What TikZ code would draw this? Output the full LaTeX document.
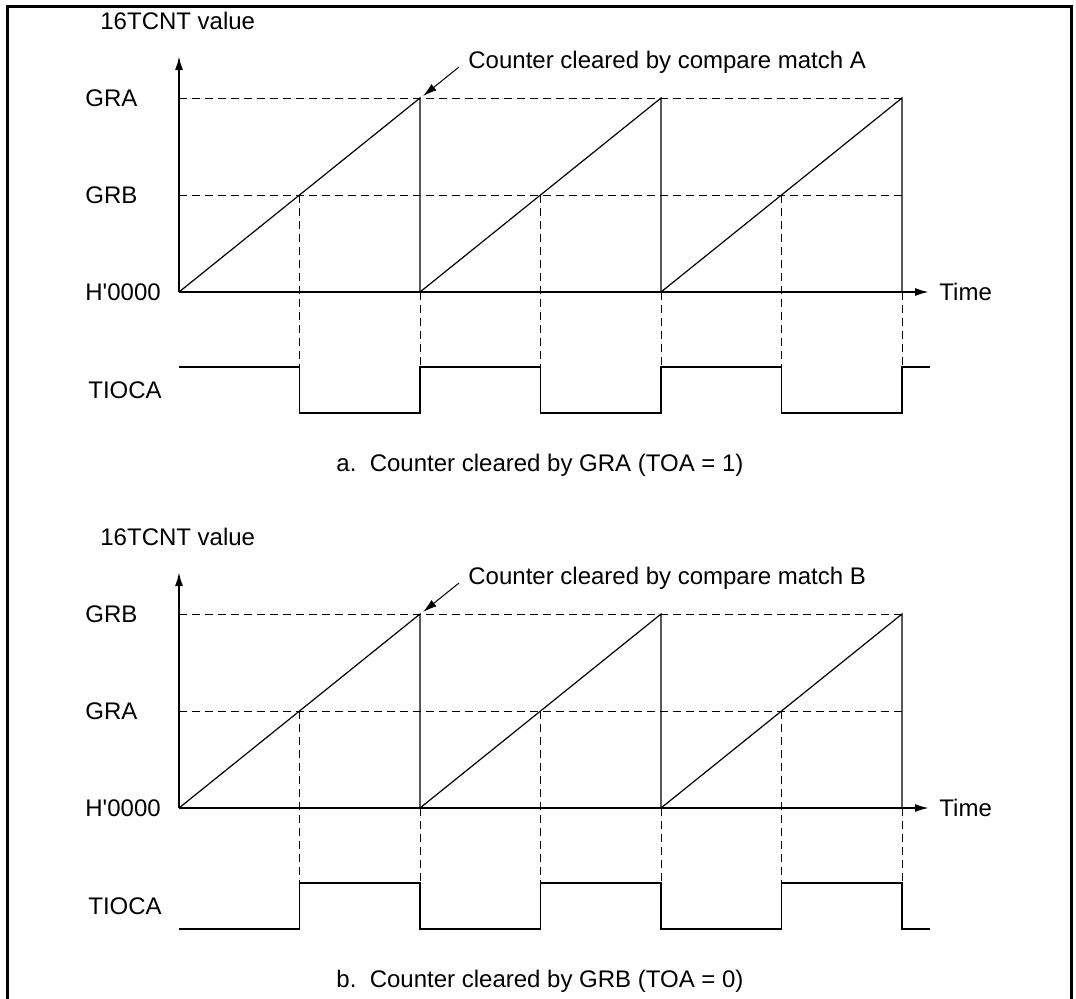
\documentclass[tikz,border=0pt]{standalone}
\usepackage{fontspec}
\setmainfont{Liberation Sans}
\usetikzlibrary{arrows.meta,calc}

\begin{document}
\begin{tikzpicture}[x=0.5pt, y=-0.5pt, font=\fontsize{12}{14}\selectfont,
    axis/.style={line width=1pt, -{Latex[length=7pt, width=4pt]}},
    guide/.style={line width=0.5pt, dash pattern=on 4pt off 2.5pt},
    ramp/.style={line width=0.6pt},
    wave/.style={line width=0.7pt},
    lbl/.style={anchor=west, inner sep=0pt},
    note/.style={line width=0.5pt, -{Latex[length=7pt, width=4pt]}}]
  \useasboundingbox (0,0) rectangle (1076,998);
  \draw[line width=1.5pt] (7,1002) -- (7,6) -- (1071,6) -- (1071,1002);

  % panel a: cleared by GRA, panel b: cleared by GRB
  \foreach \p/\dy/\up/\half/\m/\cap/\s/\t in {
      a/0/GRA/GRB/A/{a.\ \ Counter cleared by GRA (TOA = 1)}/367/413,
      b/516/GRB/GRA/B/{b.\ \ Counter cleared by GRB (TOA = 0)}/413/367}{
    \begin{scope}[yshift={-\dy*0.5pt}]
      \coordinate (\p-o) at (179,292);
      \coordinate (\p-y) at (179,56);
      \coordinate (\p-x) at (929,292);
      \coordinate (\p-peak) at (420,98);
      \node[lbl] (\p-val)  at (100,21)  {16TCNT value};
      \node[lbl] (\p-top)  at (85,98)   {\up};
      \node[lbl] (\p-mid)  at (85,195)  {\half};
      \node[lbl] (\p-zero) at (85,292)  {H\textquotesingle 0000};
      \node[lbl] (\p-sig)  at (88,390)  {TIOCA};
      \node[lbl] (\p-time) at (939,292) {Time};
      \node[lbl] (\p-note) at (468,62)  {Counter cleared by compare match \m};
      \node (\p-cap) at (540,465) {\cap};

      % compare levels
      \draw[guide] (179,98) -- (902,98);
      \draw[guide] (179,195) -- (902,195);

      % counter ramps and timing guides
      \foreach \k in {0,1,2}{
        \draw[ramp] ({179+241*\k},292) -- ({420+241*\k},98) -- ({420+241*\k},292);
        \draw[guide] ({299.5+241*\k},195) -- ({299.5+241*\k},367);
        \draw[guide] ({420+241*\k},292) -- ({420+241*\k},367);
      }
      \draw[axis] (\p-o) -- (\p-y);
      \draw[axis] (\p-o) -- (\p-x);

      % TIOCA output
      \draw[wave] (179,\s) -| (299.5,\t) -| (420,\s) -| (540.5,\t)
        -| (661,\s) -| (781.5,\t) -| (902,\s) -- (930,\s);

      \draw[note] ($(\p-note.west)+(-9,5)$) -- ($(\p-peak)+(3,-2)$);
    \end{scope}}
\end{tikzpicture}
\end{document}
